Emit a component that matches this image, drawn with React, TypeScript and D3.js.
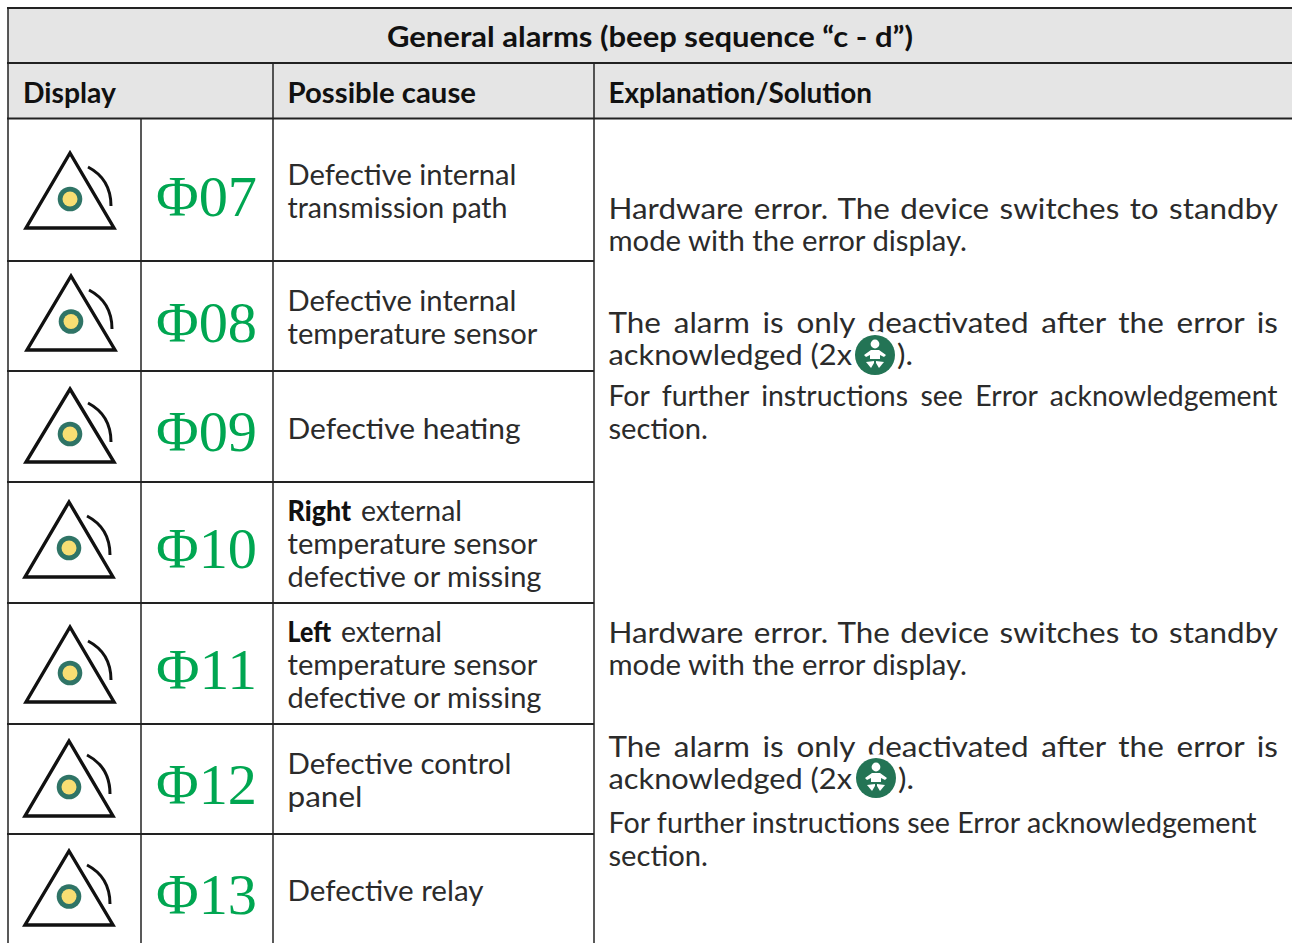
import React from "react";
import * as d3 from "d3";

// ---------- data ----------
const codes = ["Φ07", "Φ08", "Φ09", "Φ10", "Φ11", "Φ12", "Φ13"];
const causes = [
  ["Defective internal", "transmission path"],
  ["Defective internal", "temperature sensor"],
  ["Defective heating"],
  ["Right| external", "temperature sensor", "defective or missing"],
  ["Left| external", "temperature sensor", "defective or missing"],
  ["Defective control", "panel"],
  ["Defective relay"],
];
const title = "General alarms (beep sequence “c - d”)";
const headers = ["Display", "Possible cause", "Explanation/Solution"];
const explanationA = ["Hardware error. The device switches to standby", "mode with the error display."];
const explanationB = ["The alarm is only deactivated after the error is", "acknowledged (2x"];
const explanationC = ["For further instructions see Error acknowledgement", "section."];

// ---------- layout ----------
const W = 1292, H = 943;
const rowEdges = [118, 261, 371, 482, 603, 724, 834, 960];
const colX = { left: 8, code: 141, cause: 273, expl: 594 };
const apexX = [70, 71, 70, 69, 70, 69, 69];
const apexY = [153, 276, 389, 502, 627, 741, 851];
const baseY = [228, 350, 462, 577, 702, 816, 925];
const codeBase = [216, 342, 451, 568, 689, 804, 914];
const causeBase = [[185, 218], [311, 344], [439], [521, 554, 587], [642, 675, 708], [774, 807], [901]];
const causeWidths: Record<string, number> = {
  "Defective internal": 229, "transmission path": 220, "temperature sensor": 250,
  "Defective heating": 233, "defective or missing": 254, "Defective control": 224,
  panel: 75, "Defective relay": 196,
};
const FONT = "Lato, 'Noto Sans', sans-serif";
const FS = 28.5;

const canvas = document.createElement("canvas");
const ctx = canvas.getContext("2d")!;
function natural(t: string) {
  ctx.font = `normal ${FS}px Lato`;
  return ctx.measureText(t).width;
}

function Line({ x, y, t, w, justify, weight, size, anchor, k }: any) {
  const n = t.split(" ").length - 1;
  const ws = justify && n ? (w / (k ?? 1.1) - natural(t)) / n : 0;
  return (
    <text x={x} y={y} fontFamily={FONT} fontSize={size ?? FS} fontWeight={weight ?? 400} fill={weight ? "#111" : "#2b2b2b"}
      wordSpacing={ws} textLength={w} lengthAdjust="spacingAndGlyphs" textAnchor={anchor ?? "start"}>{t}</text>
  );
}

function AlarmIcon({ i }: { i: number }) {
  const ax = apexX[i], ay = apexY[i], by = baseY[i];
  const half = 44;
  const tri = d3.line()([[ax, ay], [ax + half, by], [ax - half, by]]) + "Z";
  const arc = d3.path();
  arc.moveTo(ax + 18, ay + 14);
  arc.quadraticCurveTo(ax + 41, ay + 26, ax + 41, ay + 53);
  const cy = (ay + by) / 2 + 8.5;
  return (
    <g>
      <path d={tri} fill="#fff" stroke="#111" strokeWidth={3.4} strokeLinejoin="miter" />
      <path d={arc.toString()} fill="none" stroke="#111" strokeWidth={3} />
      <circle cx={ax} cy={cy} r={12.3} fill="#2f7466" />
      <circle cx={ax} cy={cy} r={7.5} fill="#f8de73" />
    </g>
  );
}

function Baby({ cx, cy }: { cx: number; cy: number }) {
  const body = d3.line()([[-11, 0], [-4, -5], [4, -5], [11, 0], [9, 2], [5, 0], [5, 4], [-5, 4], [-5, 0], [-9, 2]]) + "Z";
  const legL = d3.line()([[-9, 7], [-1, 6], [-1, 8], [-4, 13]]) + "Z";
  const legR = d3.line()([[9, 7], [1, 6], [1, 8], [4, 13]]) + "Z";
  return (
    <g transform={`translate(${cx},${cy})`}>
      <circle r={24} fill="#fff" />
      <circle r={20} fill="#237455" />
      <circle cy={-11} r={4.4} fill="#fff" />
      <path d={body} fill="#fff" />
      <path d={legL} fill="#fff" />
      <path d={legR} fill="#fff" />
    </g>
  );
}

function ExplBlock({ offset }: { offset: number }) {
  const x = 608.5;
  const y = (v: number) => v + offset;
  return (
    <g>
      <Line x={x} y={y(219)} t={explanationA[0]} w={669.5} justify />
      <Line x={x} y={y(251)} t={explanationA[1]} w={358.5} />
      <Line x={x} y={y(333)} t={explanationB[0]} w={669.5} justify />
      <Line x={x} y={y(365)} t={explanationB[1]} w={243.5} />
      <Baby cx={offset ? 876 : 875} cy={offset ? 778 : 355} />
      <Line x={offset ? 898 : 897} y={y(365)} t={")."} w={16} />
    </g>
  );
}

export default function App() {
  return (
    <svg width={W} height={H} viewBox={`0 0 ${W} ${H}`}
      style={{ position: "absolute", left: 0, top: 0, background: "#fff", display: "block" }}>
      <rect x={colX.left} y={8} width={W - colX.left} height={110} fill="#e5e5e5" />

      <ExplBlock offset={0} />
      <ExplBlock offset={424} />
      <Line x={608.5} y={406} t={explanationC[0]} w={669} justify k={0.995} />
      <Line x={608.5} y={439} t={explanationC[1]} w={99.5} />
      <Line x={608.5} y={833} t={explanationC[0]} w={648} />
      <Line x={608.5} y={866} t={explanationC[1]} w={99.5} />

      {/* grid */}
      <g stroke="#222" fill="none">
        <line x1={colX.left - 1} x2={W} y1={8} y2={8} strokeWidth={2} />
        <line x1={colX.left - 1} x2={W} y1={63} y2={63} strokeWidth={2} />
        <line x1={colX.left - 1} x2={W} y1={118.5} y2={118.5} strokeWidth={2} />
        <line x1={colX.left} x2={colX.left} y1={8} y2={H} strokeWidth={1.5} />
        <line x1={colX.code} x2={colX.code} y1={119} y2={H} strokeWidth={1.5} />
        <line x1={colX.cause} x2={colX.cause} y1={63} y2={H} strokeWidth={1.5} />
        <line x1={colX.expl} x2={colX.expl} y1={63} y2={H} strokeWidth={1.5} />
        {rowEdges.slice(1, 7).map((e) => (
          <line key={e} x1={colX.left - 1} x2={colX.expl} y1={e} y2={e} strokeWidth={1.8} />
        ))}
      </g>

      <Line x={650} y={47} t={title} w={526} weight={700} anchor="middle" />
      <Line x={23} y={103} t={headers[0]} w={93} weight={700} />
      <Line x={287.5} y={103} t={headers[1]} w={188.5} weight={700} />
      <Line x={608.5} y={103} t={headers[2]} w={263.5} weight={700} />

      {codes.map((c, i) => (
        <g key={c}>
          <AlarmIcon i={i} />
          <text x={156} y={codeBase[i]} fontFamily="'Liberation Serif', serif" fontSize={58} fill="#00a651"
            textLength={101} lengthAdjust="spacingAndGlyphs">{c}</text>
          {causes[i].map((t, j) => {
            const by = causeBase[i][j];
            if (t.includes("|")) {
              const [b, rest] = t.split("|");
              const isRight = b === "Right";
              return (
                <g key={j}>
                  <Line x={287.5} y={by} t={b} w={isRight ? 63.5 : 43.5} weight={900} />
                  <Line x={isRight ? 361 : 341} y={by} t={rest.trim()} w={101} />
                </g>
              );
            }
            return <Line key={j} x={287.5} y={by} t={t} w={causeWidths[t]} />;
          })}
        </g>
      ))}
    </svg>
  );
}
